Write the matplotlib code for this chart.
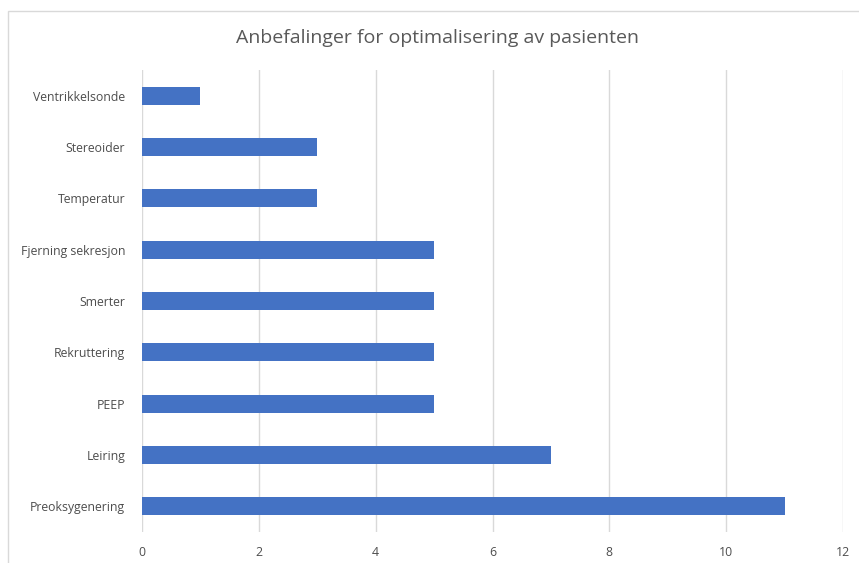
import matplotlib
matplotlib.use("Agg")
import matplotlib.pyplot as plt
from matplotlib.patches import Rectangle

categories = ["Preoksygenering", "Leiring", "PEEP", "Rekruttering", "Smerter",
              "Fjerning sekresjon", "Temperatur", "Stereoider", "Ventrikkelsonde"]
values = [11, 7, 5, 5, 5, 5, 3, 3, 1]
xticks = [0, 2, 4, 6, 8, 10, 12]

plt.rcParams["font.family"] = ["Open Sans", "DejaVu Sans"]

W, H = 859, 563
fig = plt.figure(figsize=(W / 100, H / 100), dpi=100)
ax = fig.add_axes([142 / W, 1 - 532 / H, (843 - 142) / W, (532 - 70) / H])

# border round the chart area
fig.patches.append(Rectangle((8 / W, -0.05), 1.1, 1 - 11 / H + 0.05,
                             transform=fig.transFigure, fill=False,
                             edgecolor="#d9d9d9", linewidth=1))

ax.barh(range(len(categories)), values, height=0.35, color="#4472c4", zorder=3)
ax.set_ylim(-0.5, len(categories) - 0.5)
ax.set_xlim(0, 12)
ax.set_xticks(xticks)
ax.set_yticks(range(len(categories)))
ax.set_yticklabels(categories)
ax.grid(axis="x", color="#d9d9d9", linewidth=1, zorder=0)
for s in ax.spines.values():
    s.set_visible(False)
ax.tick_params(length=0, labelsize=8.8, colors="#4d4d4d", pad=10)
ax.tick_params(axis="y", pad=12)

fig.text(438 / W, 1 - 38 / H, "Anbefalinger for optimalisering av pasienten",
         ha="center", va="center", fontsize=14, color="#595959")

fig.savefig("out.png", dpi=100)
